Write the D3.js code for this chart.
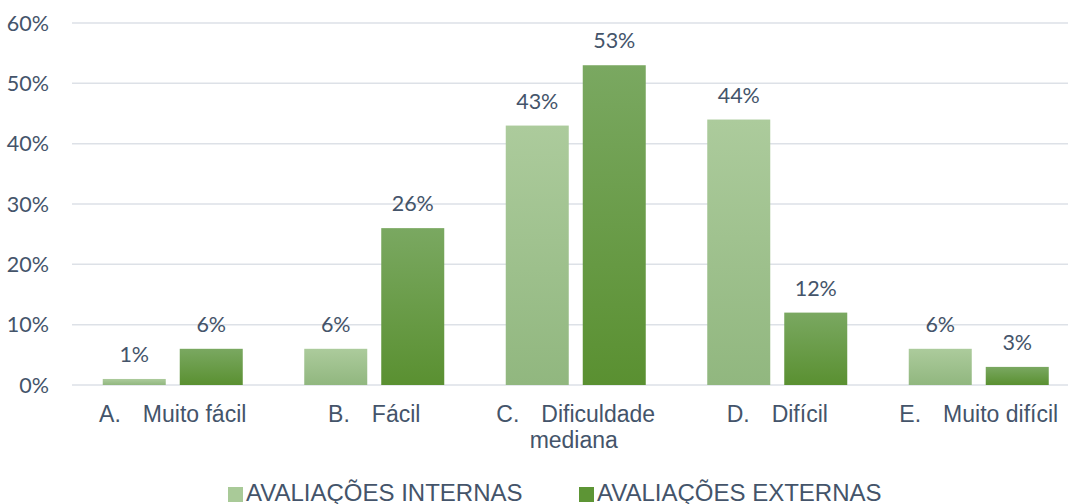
<!DOCTYPE html>
<html>
<head>
<meta charset="utf-8">
<script src="https://cdn.jsdelivr.net/npm/d3@7"></script>
<style>
  body { margin: 0; background: #fff; }
  svg { display: block; }
</style>
</head>
<body>
<svg width="1068" height="504"></svg>
<script>
// chart data
var categories = ["A", "B", "C", "D", "E"];
var labelPrefix = ["A.", "B.", "C.", "D.", "E."];
var labelLines = [["Muito fácil"], ["Fácil"], ["Dificuldade", "mediana"], ["Difícil"], ["Muito difícil"]];
var internas = [1, 6, 43, 44, 6];
var externas = [6, 26, 53, 12, 3];
var seriesNames = ["AVALIAÇÕES INTERNAS", "AVALIAÇÕES EXTERNAS"];
var yTicks = [0, 10, 20, 30, 40, 50, 60];

var svg = d3.select("svg");
var margin = {left: 72, top: 23, bottom: 385};
var plotRight = 1079.5;

var x = d3.scaleBand().domain(categories).range([margin.left, plotRight]);
var x1 = d3.scaleBand().domain(["int", "ext"]).range([0, 140]).paddingInner(14 / 77);
var y = d3.scaleLinear().domain([0, 60]).range([margin.bottom, margin.top]);

var textColor = "#44546A";
var numFont = "Lato, 'Open Sans', sans-serif";
var txtFont = "'Liberation Sans', Arial, sans-serif";

// gradients
var defs = svg.append("defs");
function grad(id, top, bottom) {
  var g = defs.append("linearGradient").attr("id", id)
    .attr("x1", 0).attr("y1", 0).attr("x2", 0).attr("y2", 1);
  g.append("stop").attr("offset", "0%").attr("stop-color", top);
  g.append("stop").attr("offset", "100%").attr("stop-color", bottom);
}
grad("gInt", "#ACCB9C", "#91B77F");
grad("gExt", "#7AA861", "#5A9031");

// gridlines
svg.append("g").selectAll("line")
  .data(yTicks)
  .enter().append("line")
  .attr("x1", margin.left).attr("x2", 1068)
  .attr("y1", function(d) { return y(d); })
  .attr("y2", function(d) { return y(d); })
  .attr("stroke", "#DDE1E7")
  .attr("stroke-width", 1.5);

// y labels
svg.append("g").selectAll("text")
  .data(yTicks)
  .enter().append("text")
  .attr("x", 49)
  .attr("y", function(d) { return y(d) + 7.5; })
  .attr("text-anchor", "end")
  .attr("font-family", numFont)
  .attr("font-size", 21.5)
  .attr("fill", textColor)
  .text(function(d) { return d + "%"; });

var offset = (x.bandwidth() - 140) / 2;

var groups = svg.append("g").selectAll("g")
  .data(categories)
  .enter().append("g")
  .attr("transform", function(d) { return "translate(" + (x(d) + offset) + ",0)"; });

function drawSeries(key, values, fill) {
  groups.append("rect")
    .attr("x", x1(key))
    .attr("width", x1.bandwidth())
    .attr("y", function(d, i) { return y(values[i]); })
    .attr("height", function(d, i) { return y(0) - y(values[i]); })
    .attr("fill", fill);
  groups.append("text")
    .attr("x", x1(key) + x1.bandwidth() / 2)
    .attr("y", function(d, i) { return y(values[i]) - 17; })
    .attr("text-anchor", "middle")
    .attr("font-family", numFont)
    .attr("font-size", 21.5)
    .attr("fill", textColor)
    .text(function(d, i) { return values[i] + "%"; });
}
drawSeries("int", internas, "url(#gInt)");
drawSeries("ext", externas, "url(#gExt)");

// category labels
categories.forEach(function(c, i) {
  var cx = x(c) + x.bandwidth() / 2;
  var t = svg.append("text")
    .attr("x", cx)
    .attr("y", 422)
    .attr("text-anchor", "middle")
    .attr("font-family", txtFont)
    .attr("font-size", 23)
    .attr("fill", textColor);
  t.append("tspan").text(labelPrefix[i]);
  t.append("tspan").attr("dx", 22).text(labelLines[i][0]);
  labelLines[i].slice(1).forEach(function(line, j) {
    svg.append("text")
      .attr("x", cx - 2)
      .attr("y", 448 + j * 26)
      .attr("text-anchor", "middle")
      .attr("font-family", txtFont)
      .attr("font-size", 23)
      .attr("fill", textColor)
      .text(line);
  });
});

// legend
var legendX = [228, 579];
var legendFill = ["#A9CA98", "#5D9535"];
seriesNames.forEach(function(name, i) {
  svg.append("rect")
    .attr("x", legendX[i]).attr("y", 487)
    .attr("width", 15).attr("height", 15)
    .attr("fill", legendFill[i]);
  svg.append("text")
    .attr("x", legendX[i] + 18).attr("y", 501)
    .attr("font-family", txtFont)
    .attr("font-size", 24)
    .attr("fill", textColor)
    .text(name);
});
</script>
</body>
</html>
